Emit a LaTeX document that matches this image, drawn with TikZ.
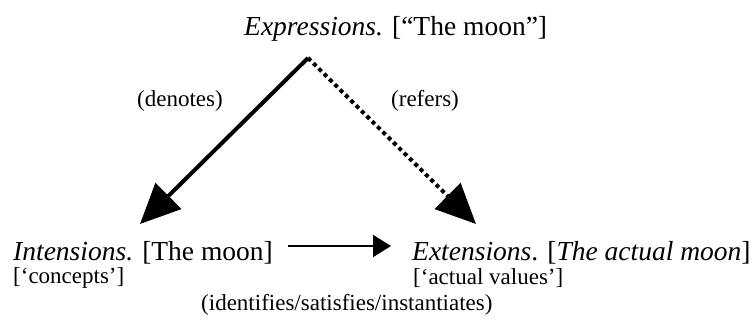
\documentclass[tikz,border=0pt]{standalone}
\usepackage{fontspec}
\setmainfont{Liberation Serif}
\usetikzlibrary{arrows.meta}
\tikzset{
  big/.style={font=\fontsize{27.5}{32}\selectfont, inner sep=0pt, anchor=base west},
  small/.style={font=\fontsize{23}{27}\selectfont, inner sep=0pt, anchor=base west},
  thickarrow/.style={line width=4pt, -{Triangle[length=40pt,width=36pt]}},
  dotarrow/.style={line width=4pt, dash pattern=on 4pt off 3.5pt, -{Triangle[length=40pt,width=36pt]}},
  thinarrow/.style={line width=2pt, -{Triangle[length=18pt,width=22pt]}}
}
\begin{document}
\begin{tikzpicture}[x=1pt,y=-1pt]
\useasboundingbox (0,0) rectangle (755,320);
\node[big] (expr) at (244,36) {\textit{Expressions.} [“The moon”]};
\node[big] (int) at (13,261) {\textit{Intensions.} [The moon]};
\node[small] (conc) at (13,284) {[‘concepts’]};
\node[big] (ext) at (412,261) {\textit{Extensions}. [\textit{The actual moon}]};
\node[small] (vals) at (413,285) {[‘actual values’]};
\node[small] (den) at (137,107) {(denotes)};
\node[small] (ref) at (391,107) {(refers)};
\node[small] (ids) at (201,311) {(identifies/satisfies/instantiates)};
\coordinate (top) at (308,58);
\coordinate (ltip) at (140,224);
\coordinate (rtip) at (476,224);
\coordinate (hs) at (288,246);
\coordinate (he) at (391,246);
\draw[thickarrow] (top) -- (ltip);
\draw[dotarrow] (top) -- (rtip);
\draw[thinarrow] (hs) -- (he);
\end{tikzpicture}
\end{document}
